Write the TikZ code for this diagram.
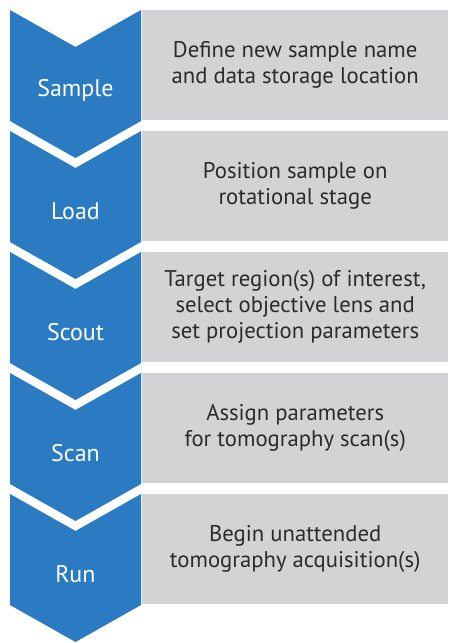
\documentclass[tikz,border=0pt]{standalone}
\usepackage{fontspec}
\setmainfont{PT Sans}
\usepackage{tikz}
\usetikzlibrary{positioning}
\usepackage{xcolor}
\definecolor{stepblue}{HTML}{2A7BC1}
\definecolor{descgray}{HTML}{D3D3D5}
\definecolor{desctext}{HTML}{2B2B2B}

\begin{document}
\begin{tikzpicture}[x=1pt,y=-1pt,
	chevron/.style={
		fill=stepblue,
		draw=none
	},
	steplabel/.style={
		text=white,
		font=\fontsize{24}{28}\selectfont
	},
	descbox/.style={
		fill=descgray,
		draw=none,
		anchor=north west,
		minimum width=306pt,
		minimum height=110pt,
		inner sep=0pt,
		align=center,
		text=desctext,
		font=\fontsize{22.7}{26}\selectfont
	}]

	\useasboundingbox (0,0) rectangle (448,643);

	\foreach \lbl/\txt [count=\i from 0] in {
		Sample/{Define new sample name\\and data storage location},
		Load/{Position sample on\\rotational stage},
		Scout/{Target region(s) of interest,\\select objective lens and\\set projection parameters},
		Scan/{Assign parameters\\for tomography scan(s)},
		Run/{Begin unattended\\tomography acquisition(s)}} {
		\pgfmathsetmacro{\t}{10+121*\i}
		% arrow-shaped step marker
		\fill[chevron] (10,\t) -- (75.5,\t+37) -- (141,\t) -- (141,\t+111)
			-- (75.5,\t+148) -- (10,\t+111) -- cycle;
		\node[steplabel] (step\i) at (75.5,\t+80) {\lbl};
		\node[descbox] (desc\i) at (142,\t) {\txt};
	}
\end{tikzpicture}
\end{document}
